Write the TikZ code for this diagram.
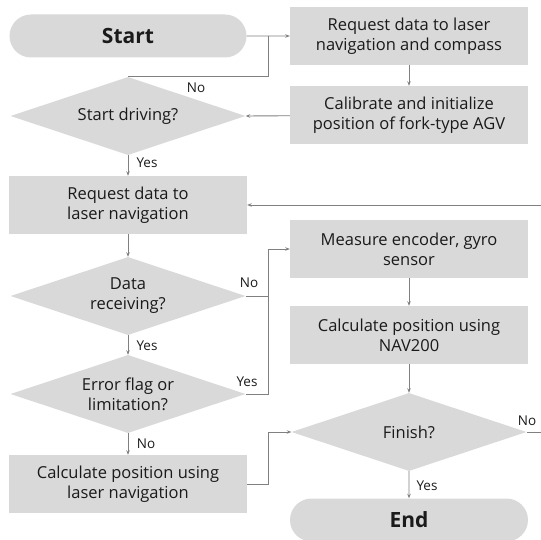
\documentclass[tikz,border=0pt]{standalone}
\usepackage{fontspec}
\setmainfont{Open Sans}
\usetikzlibrary{shapes.geometric,shapes.misc,arrows.meta}
\definecolor{boxgray}{HTML}{D9D9D9}
\definecolor{linegray}{HTML}{808080}
\definecolor{txt}{HTML}{1A1A1A}

\begin{document}
\begin{tikzpicture}[x=1pt, y=-1pt,
		every node/.style={text=txt, font=\fontsize{16.5}{20}\selectfont, align=center},
		procbox/.style={fill=boxgray, minimum width=238pt, minimum height=58pt, inner sep=0pt},
		decision/.style={diamond, fill=boxgray, aspect=3, inner sep=0pt, minimum width=235pt, minimum height=78pt},
		terminal/.style={rounded rectangle, fill=boxgray, minimum width=237pt, minimum height=43pt, inner sep=0pt, font=\fontsize{21}{24}\bfseries},
		lbl/.style={font=\fontsize{13.5}{15}\selectfont, inner sep=1pt},
		arr/.style={draw=linegray, line width=0.9pt, -{Stealth[length=4.5pt,width=3.5pt]}},
		ln/.style={draw=linegray, line width=0.9pt}]
		\useasboundingbox (0,0) rectangle (541,540);
		\node[terminal] (start) at (128,36) {Start};
		\node[procbox] (req1) at (409,36) {Request data to laser\\navigation and compass};
		\node[procbox] (calib) at (409,115) {Calibrate and initialize\\position of fork-type AGV};
		\node[decision] (sd) at (128,116) {Start driving?};
		\node[procbox] (req2) at (128,205) {Request data to\\laser navigation};
		\node[decision] (recv) at (128,296) {Data\\receiving?};
		\node[decision] (err) at (128,394) {Error flag or\\limitation?};
		\node[procbox] (calc1) at (128,484) {Calculate position using\\laser navigation};
		\node[procbox] (meas) at (409,249) {Measure encoder, gyro\\sensor};
		\node[procbox] (calc2) at (409,335) {Calculate position using\\NAV200};
		\node[decision] (fin) at (409,432) {Finish?};
		\node[terminal, minimum width=238pt] (end) at (409,520) {End};
		
		\coordinate (j1) at (268,36);
		\coordinate (j2) at (268,296);
		\coordinate (j3) at (268,484);
		\coordinate (e1) at (541,432);
		\coordinate (e2) at (541,205);
		
		\draw[arr] (start) -- (req1);
		\draw[ln] (sd.north) -| (j1);
		\draw[arr] (req1) -- (calib);
		\draw[arr] (calib) -- (sd.east);
		\draw[arr] (sd.south) -- (req2);
		\draw[arr] (e2) -- (req2);
		\draw[arr] (req2) -- (recv.north);
		\draw[arr] (recv.east) -- (j2) |- (meas.west);
		\draw[arr] (recv.south) -- (err.north);
		\draw[ln] (err.east) -| (j2);
		\draw[arr] (err.south) -- (calc1);
		\draw[arr] (calc1.east) -- (j3) |- (fin.west);
		\draw[arr] (meas) -- (calc2);
		\draw[arr] (calc2) -- (fin.north);
		\draw[arr] (fin.south) -- (end);
		\draw[ln] (fin.east) -- (e1);
		
		\node[lbl] (no1) at (196,88) {No};
		\node[lbl] (yes1) at (147,163) {Yes};
		\node[lbl] (no2) at (249,283) {No};
		\node[lbl] (yes2) at (147,346) {Yes};
		\node[lbl] (yes3) at (247,382) {Yes};
		\node[lbl] (no3) at (146,444) {No};
		\node[lbl] (yes4) at (427,486) {Yes};
		\node[lbl] (no4) at (527,421) {No};
		
\end{tikzpicture}
\end{document}
